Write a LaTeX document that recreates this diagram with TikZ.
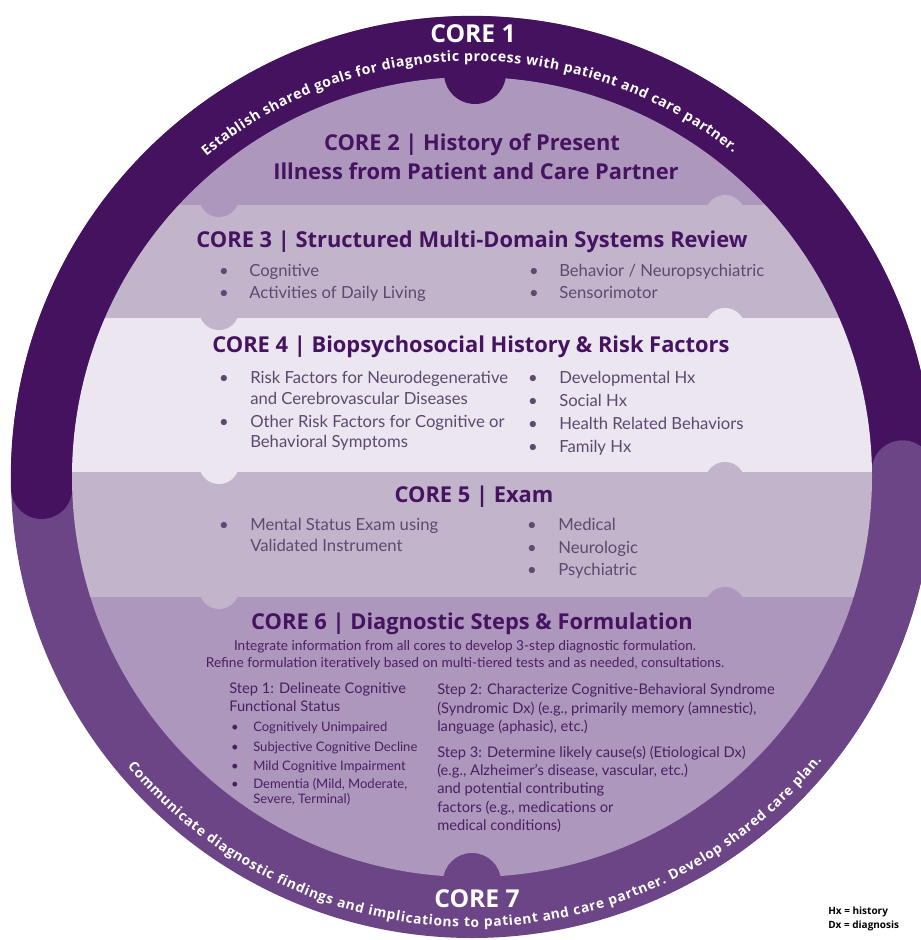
\documentclass[tikz,border=0pt]{standalone}
\usepackage{fontspec}
\setmainfont{Lato}
\newfontfamily\headfont{Open Sans}
\usetikzlibrary{decorations.text}

\definecolor{coreDark}{HTML}{44125F}
\definecolor{coreMid}{HTML}{6B4585}
\definecolor{bandA}{HTML}{AD97BC}
\definecolor{bandB}{HTML}{C1B4CB}
\definecolor{bandC}{HTML}{EBE6EF}
\definecolor{titleTxt}{HTML}{45135F}
\definecolor{itemTxt}{HTML}{5D4A70}
\definecolor{stepTxt}{HTML}{4A2063}

\tikzset{
  corelabel/.style={text=white, font=\headfont\bfseries\fontsize{18.5}{20}\selectfont, inner sep=0pt, anchor=base},
  coretitle/.style={text=titleTxt, font=\headfont\bfseries\fontsize{16.4}{19}\selectfont, inner sep=0pt, anchor=base},
  item/.style={text=itemTxt, font=\fontsize{12.5}{15}\selectfont, inner sep=0pt, anchor=base west},
  bul/.style={text=itemTxt, font=\fontsize{12.5}{15}\selectfont, inner sep=0pt, anchor=base},
  intro/.style={text=stepTxt, font=\fontsize{10.25}{12}\selectfont, inner sep=0pt, anchor=base},
  steptxt/.style={text=stepTxt, font=\fontsize{11}{13}\selectfont, inner sep=0pt, anchor=base west},
  stepitem/.style={text=stepTxt, font=\fontsize{9.8}{12}\selectfont, inner sep=0pt, anchor=base west},
  stepbul/.style={text=stepTxt, font=\fontsize{9.8}{12}\selectfont, inner sep=0pt, anchor=base},
  legend/.style={text=black, font=\headfont\bfseries\fontsize{7.5}{9}\selectfont, inner sep=0pt, anchor=base west},
}

\begin{document}
\begin{tikzpicture}[x=0.75pt,y=0.75pt,yscale=-1,xscale=1]
\useasboundingbox (0,0) rectangle (921,940);

%Shape: Outer ring [id:core1-core7]
\fill[coreMid] (472,477) circle[radius=461];
\draw[coreDark, line width=46pt, line cap=round] (472,477) ++(178.5:430.5) arc[start angle=178.5, end angle=370, radius=430.5];
\draw[coreMid, line width=46pt, line cap=round] (472,477) ++(359.2:430.5) arc[start angle=359.2, end angle=420, radius=430.5];

%Shape: Inner disc with bands
\begin{scope}
\clip (472,477) circle[radius=400];
\fill[bandA] (60,60) rectangle (890,205);
\fill[bandB] (60,205) rectangle (890,318);
\fill[bandC] (60,318) rectangle (890,472);
\fill[bandB] (60,472) rectangle (890,597);
\fill[bandA] (60,597) rectangle (890,890);
%Tabs between bands
\fill[bandA] (219,197) circle[radius=20];
\fill[bandB] (725,215) circle[radius=20];
\fill[bandB] (219,310) circle[radius=20];
\fill[bandC] (725,328) circle[radius=20];
\fill[bandC] (219,464) circle[radius=20];
\fill[bandB] (725,482) circle[radius=20];
\fill[bandB] (219,589) circle[radius=20];
\fill[bandA] (725,607) circle[radius=20];
\end{scope}

%Tabs of the ring
\fill[coreDark] (475,73) circle[radius=31];
\fill[coreMid] (472,882) circle[radius=29];

% Text along ring
\path[decorate, decoration={text along path, text align={fit to path}, text color=white,
  text={|\headfont\bfseries\fontsize{10.6}{12}\selectfont|Establish shared goals for diagnostic process with patient and care partner.}}]
  (472,477) ++(230.3:416) arc[start angle=230.3, end angle=308.8, radius=416];
\path[decorate, decoration={text along path, text align={fit to path}, text color=white,
  text={|\headfont\bfseries\fontsize{10.3}{12}\selectfont|Communicate diagnostic findings and implications to patient and care partner. Develop shared care plan.}}]
  (472,477) ++(140:450) arc[start angle=140, end angle=39, radius=450];

% Text Node
\node[corelabel] (core1) at (473,42) {CORE 1};
% Text Node
\node[corelabel] (core7) at (477,907) {CORE 7};

% Text Node
\node[coretitle] (core2a) at (472,150) {CORE 2 | History of Present};
\node[coretitle] (core2b) at (476,179) {Illness from Patient and Care Partner};

% Text Node
\node[coretitle] (core3) at (472,247) {CORE 3 | Structured Multi-Domain Systems Review};
\node[bul] (c3b1) at (224,276) {\textbullet};
\node[item] (c3i1) at (249,276) {Cognitive};
\node[bul] (c3b2) at (224,298) {\textbullet};
\node[item] (c3i2) at (249,298) {Activities of Daily Living};
\node[bul] (c3b3) at (534,276) {\textbullet};
\node[item] (c3i3) at (559,276) {Behavior / Neuropsychiatric};
\node[bul] (c3b4) at (534,298) {\textbullet};
\node[item] (c3i4) at (559,298) {Sensorimotor};

% Text Node
\node[coretitle] (core4) at (471,352) {CORE 4 | Biopsychosocial History \& Risk Factors};
\node[bul] (c4b1) at (224,383) {\textbullet};
\node[item] (c4i1) at (250,383) {Risk Factors for Neurodegenerative};
\node[item] (c4i1b) at (250,404) {and Cerebrovascular Diseases};
\node[bul] (c4b2) at (224,427) {\textbullet};
\node[item] (c4i2) at (250,427) {Other Risk Factors for Cognitive or};
\node[item] (c4i2b) at (250,447) {Behavioral Symptoms};
\node[bul] (c4b3) at (533,383) {\textbullet};
\node[item] (c4i3) at (559,383) {Developmental Hx};
\node[bul] (c4b4) at (533,406) {\textbullet};
\node[item] (c4i4) at (559,406) {Social Hx};
\node[bul] (c4b5) at (533,429) {\textbullet};
\node[item] (c4i5) at (559,429) {Health Related Behaviors};
\node[bul] (c4b6) at (533,452) {\textbullet};
\node[item] (c4i6) at (559,452) {Family Hx};

% Text Node
\node[coretitle] (core5) at (474,502) {CORE 5 | Exam};
\node[bul] (c5b1) at (224,530) {\textbullet};
\node[item] (c5i1) at (250,530) {Mental Status Exam using};
\node[item] (c5i1b) at (250,551) {Validated Instrument};
\node[bul] (c5b2) at (532,530) {\textbullet};
\node[item] (c5i2) at (558,530) {Medical};
\node[bul] (c5b3) at (532,553) {\textbullet};
\node[item] (c5i3) at (558,553) {Neurologic};
\node[bul] (c5b4) at (532,575) {\textbullet};
\node[item] (c5i4) at (558,575) {Psychiatric};

% Text Node
\node[coretitle] (core6) at (472,629) {CORE 6 | Diagnostic Steps \& Formulation};
\node[intro] (c6a) at (465,650) {Integrate information from all cores to develop 3-step diagnostic formulation.};
\node[intro] (c6b) at (465,667) {Refine formulation iteratively based on multi-tiered tests and as needed, consultations.};

% Step 1
\node[steptxt] (s1a) at (229,693) {Step 1: Delineate Cognitive};
\node[steptxt] (s1b) at (229,711) {Functional Status};
\node[stepbul] (s1d1) at (235,731) {\textbullet};
\node[stepitem] (s1i1) at (253,731) {Cognitively Unimpaired};
\node[stepbul] (s1d2) at (235,751) {\textbullet};
\node[stepitem] (s1i2) at (253,751) {Subjective Cognitive Decline};
\node[stepbul] (s1d3) at (235,770) {\textbullet};
\node[stepitem] (s1i3) at (253,770) {Mild Cognitive Impairment};
\node[stepbul] (s1d4) at (235,788) {\textbullet};
\node[stepitem] (s1i4) at (253,788) {Dementia (Mild, Moderate,};
\node[stepitem] (s1i4b) at (253,803) {Severe, Terminal)};

% Step 2
\node[steptxt] (s2a) at (437,694) {Step 2: Characterize Cognitive-Behavioral Syndrome};
\node[steptxt] (s2b) at (437,713) {(Syndromic Dx) (e.g., primarily memory (amnestic),};
\node[steptxt] (s2c) at (437,731) {language (aphasic), etc.)};

% Step 3
\node[steptxt] (s3a) at (437,757) {Step 3: Determine likely cause(s) (Etiological Dx)};
\node[steptxt] (s3b) at (437,775) {(e.g., Alzheimer's disease, vascular, etc.)};
\node[steptxt] (s3c) at (437,793) {and potential contributing};
\node[steptxt] (s3d) at (437,812) {factors (e.g., medications or};
\node[steptxt] (s3e) at (437,830) {medical conditions)};

% Legend
\node[legend] (hx) at (828,914) {Hx = history};
\node[legend] (dx) at (828,928) {Dx = diagnosis};

\end{tikzpicture}
\end{document}
